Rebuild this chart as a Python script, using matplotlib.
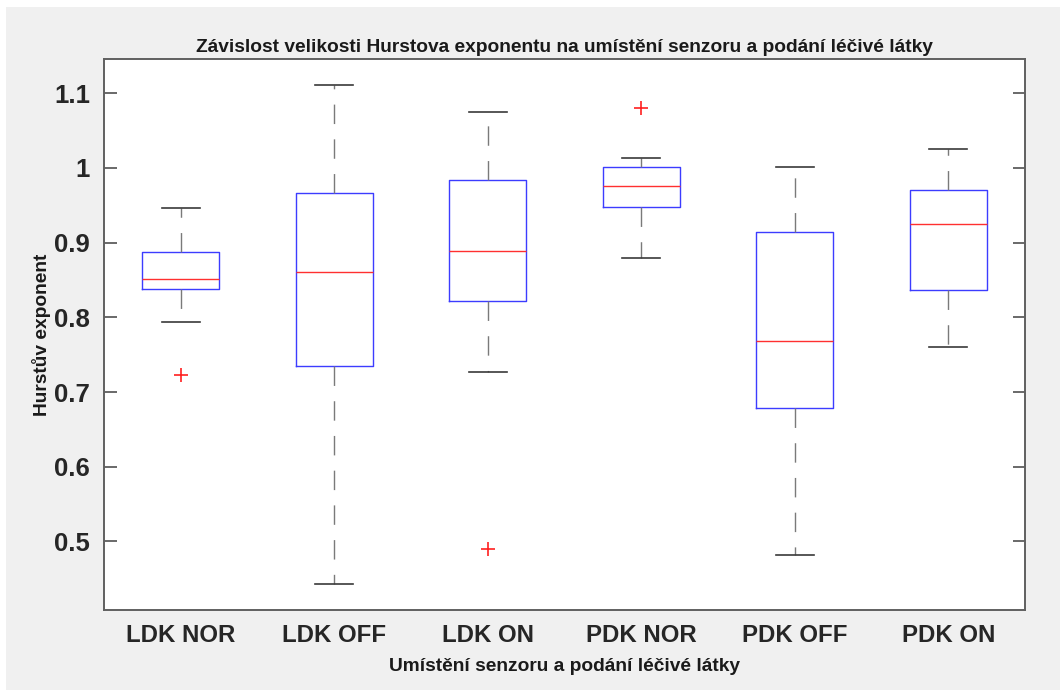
import matplotlib
matplotlib.use("Agg")
import matplotlib.pyplot as plt
from matplotlib.patches import Rectangle

# Box statistics for each sensor placement / medication condition
categories = ["LDK NOR", "LDK OFF", "LDK ON", "PDK NOR", "PDK OFF", "PDK ON"]
whisker_low = [0.794, 0.443, 0.727, 0.879, 0.482, 0.760]
q1 = [0.838, 0.735, 0.822, 0.948, 0.679, 0.837]
median = [0.851, 0.861, 0.889, 0.976, 0.768, 0.925]
q3 = [0.887, 0.966, 0.984, 1.001, 0.914, 0.970]
whisker_high = [0.946, 1.111, 1.075, 1.013, 1.001, 1.025]
outliers = [[0.723], [], [0.490], [1.080], [], []]

yticks = [0.5, 0.6, 0.7, 0.8, 0.9, 1.0, 1.1]
ytick_labels = ["0.5", "0.6", "0.7", "0.8", "0.9", "1", "1.1"]

title = "Závislost velikosti Hurstova exponentu na umístění senzoru a podání léčivé látky"
xlabel = "Umístění senzoru a podání léčivé látky"
ylabel = "Hurstův exponent"

plt.rcParams["font.family"] = ["Liberation Sans", "DejaVu Sans"]

fig = plt.figure(figsize=(10.6, 6.9), dpi=100, facecolor="white")
fig.patches.append(Rectangle((6 / 1060, 0), 1 - 6 / 1060, 1 - 7 / 690,
                             transform=fig.transFigure, facecolor="#f0f0f0",
                             edgecolor="none", zorder=-10))

ax = fig.add_axes([104 / 1060, 1 - 610 / 690, (1025 - 104) / 1060, (610 - 59.3) / 690])
ax.set_facecolor("white")

stats = []
for i, name in enumerate(categories):
    stats.append(dict(label=name, med=median[i], q1=q1[i], q3=q3[i],
                      whislo=whisker_low[i], whishi=whisker_high[i],
                      fliers=outliers[i]))

ax.bxp(stats, positions=range(1, len(categories) + 1), widths=0.5,
       showfliers=True,
       boxprops=dict(color="#3c3cff", linewidth=1.0),
       medianprops=dict(color="#ff3030", linewidth=1.0),
       whiskerprops=dict(color="#7a7a7a", linewidth=1.0, linestyle=(0, (14, 11))),
       capprops=dict(color="#3a3a3a", linewidth=1.2),
       capwidths=0.25,
       flierprops=dict(marker="+", markeredgecolor="#ff2020", markersize=10,
                       markeredgewidth=1.2, linestyle="none"))

ax.set_xlim(0.5, 6.5)
ax.set_ylim(0.4083, 1.1455)
ax.set_yticks(yticks)
ax.set_yticklabels(ytick_labels)
ax.set_xticks(range(1, len(categories) + 1))
ax.set_xticklabels(categories)

ax.tick_params(axis="y", direction="in", length=9, width=1.2, color="#505050",
               right=True, labelsize=18.5, pad=10, labelcolor="#262626")
ax.tick_params(axis="x", length=0, labelsize=17.3, pad=10, labelcolor="#262626")
for lab in ax.get_xticklabels() + ax.get_yticklabels():
    lab.set_fontweight("bold")
for sp in ax.spines.values():
    sp.set_color("#606060")
    sp.set_linewidth(1.4)

ax.set_title(title, fontsize=13.8, fontweight="bold", color="#1a1a1a", pad=5)
ax.set_xlabel(xlabel, fontsize=13.8, fontweight="bold", color="#1a1a1a", labelpad=8)
ax.set_ylabel(ylabel, fontsize=13.8, fontweight="bold", color="#1a1a1a", labelpad=2)

fig.savefig("out.png", dpi=100, facecolor=fig.get_facecolor())
